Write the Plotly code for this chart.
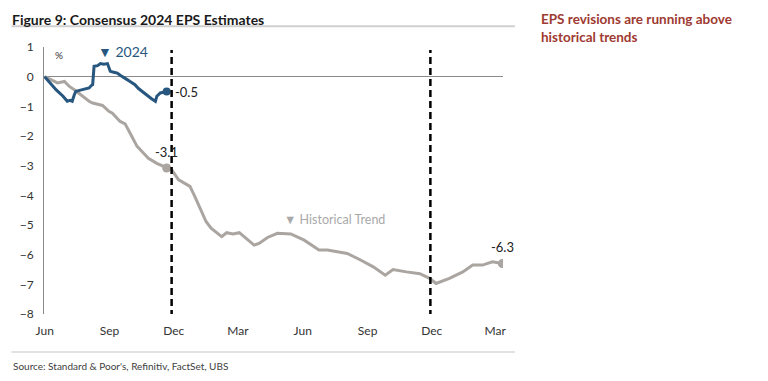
import plotly.graph_objects as go

# ---- data ----
dates_2024 = ["2023-06-01","2023-06-08","2023-06-17","2023-06-27","2023-07-03","2023-07-07",
              "2023-07-10","2023-07-13","2023-07-15","2023-07-19","2023-07-24","2023-07-29",
              "2023-08-03","2023-08-06","2023-08-08","2023-08-10","2023-08-15","2023-08-19",
              "2023-08-24","2023-08-29","2023-09-02","2023-09-07","2023-09-12","2023-09-16",
              "2023-09-21","2023-09-26","2023-09-30","2023-10-04","2023-10-07","2023-10-12",
              "2023-10-17","2023-10-22","2023-10-26","2023-10-31","2023-11-05","2023-11-07",
              "2023-11-12","2023-11-16","2023-11-19","2023-11-21"]
values_2024 = [0, -0.21, -0.44, -0.66, -0.83, -0.8,
               -0.83, -0.61, -0.5, -0.47, -0.44, -0.41,
               -0.38, -0.3, -0.27, 0.35, 0.37, 0.44,
               0.42, 0.44, 0.18, 0.15, 0.12, 0.05,
               -0.04, -0.1, -0.16, -0.22, -0.27, -0.4,
               -0.5, -0.58, -0.66, -0.75, -0.83, -0.66,
               -0.55, -0.52, -0.5, -0.5]

dates_hist = ["2023-06-01","2023-06-19","2023-06-29","2023-07-06","2023-07-13","2023-07-24",
              "2023-08-03","2023-08-08","2023-08-22","2023-08-31","2023-09-05","2023-09-16",
              "2023-09-23","2023-09-30","2023-10-10","2023-10-17","2023-10-26","2023-11-07",
              "2023-11-21","2023-11-28","2023-12-08","2023-12-17","2023-12-24","2023-12-31",
              "2024-01-09","2024-01-16","2024-01-23","2024-02-02","2024-02-07","2024-02-14",
              "2024-02-23","2024-03-03","2024-03-13","2024-03-24","2024-03-31","2024-04-12",
              "2024-04-26","2024-05-15","2024-06-03","2024-06-17","2024-06-24","2024-07-06",
              "2024-08-03","2024-08-22","2024-09-09","2024-09-26","2024-10-07","2024-10-26",
              "2024-11-14","2024-11-28","2024-12-07","2024-12-26","2025-01-14","2025-01-28",
              "2025-02-11","2025-02-25","2025-03-11"]
values_hist = [0, -0.21, -0.16, -0.33, -0.44, -0.66,
               -0.83, -0.89, -0.97, -1.17, -1.23, -1.51,
               -1.59, -1.9, -2.35, -2.52, -2.75, -2.92,
               -3.08, -3.14, -3.48, -3.59, -3.7, -4.04,
               -4.49, -4.89, -5.11, -5.28, -5.39, -5.26,
               -5.3, -5.26, -5.45, -5.68, -5.62, -5.42,
               -5.28, -5.3, -5.51, -5.75, -5.84, -5.84,
               -5.96, -6.18, -6.41, -6.69, -6.5, -6.58,
               -6.64, -6.8, -6.97, -6.8, -6.58, -6.35,
               -6.35, -6.24, -6.3]

tick_dates = ["2023-06-01","2023-09-01","2023-12-01","2024-03-01",
              "2024-06-01","2024-09-01","2024-12-01","2025-03-01"]
tick_labels = ["Jun","Sep","Dec","Mar","Jun","Sep","Dec","Mar"]
y_ticks = [1, 0, -1, -2, -3, -4, -5, -6, -7, -8]
marker_lines = ["2023-11-28", "2024-11-29"]

BLUE = "#27567f"
GRAY = "#aaa5a0"
RED = "#9e3a31"
FONT = "Lato"

fig = go.Figure()
fig.add_trace(go.Scatter(x=dates_hist, y=values_hist, mode="lines",
                         line=dict(color=GRAY, width=3), hoverinfo="skip"))
fig.add_trace(go.Scatter(x=dates_2024, y=values_2024, mode="lines",
                         line=dict(color=BLUE, width=3), hoverinfo="skip"))

# end-point markers
i_mid = dates_hist.index(dates_2024[-1])
fig.add_trace(go.Scatter(x=[dates_hist[i_mid], dates_hist[-1]],
                         y=[values_hist[i_mid], values_hist[-1]], mode="markers",
                         marker=dict(color=GRAY, size=9), hoverinfo="skip"))
fig.add_trace(go.Scatter(x=[dates_2024[-1]], y=[values_2024[-1]], mode="markers",
                         marker=dict(color=BLUE, size=8), hoverinfo="skip"))

shapes = []
for d in marker_lines:
    shapes.append(dict(type="line", xref="x", yref="y", x0=d, x1=d, y0=-8.1, y1=0.9,
                       line=dict(color="black", width=2.5, dash="7px,4px")))
# separators
shapes.append(dict(type="line", xref="paper", yref="paper", x0=-0.071, x1=1.026,
                   y0=1.078, y1=1.078, line=dict(color="#d0d0d0", width=2)))
shapes.append(dict(type="line", xref="paper", yref="paper", x0=-0.071, x1=1.026,
                   y0=-0.142, y1=-0.142, line=dict(color="#d8d8d8", width=1.5)))

annotations = [
    dict(text="<b>Figure 9: Consensus 2024 EPS Estimates</b>", xref="paper", yref="paper",
         x=-0.075, y=1.144, xanchor="left", yanchor="top", showarrow=False,
         font=dict(family=FONT, size=14, color="#1a1a1a")),
    dict(text="<b>EPS revisions are running above<br>historical trends</b>", xref="paper",
         yref="paper", x=1.078, y=1.144, xanchor="left", yanchor="top", align="left",
         showarrow=False, font=dict(family=FONT, size=13.5, color=RED)),
    dict(text="Source: Standard &amp; Poor's, Refinitiv, FactSet, UBS", xref="paper", yref="paper",
         x=-0.071, y=-0.195, xanchor="left", yanchor="middle", showarrow=False,
         font=dict(family=FONT, size=10, color="#404040")),
    dict(text="%", x="2023-06-21", y=0.72, showarrow=False,
         font=dict(family=FONT, size=10, color="#333")),
    dict(text="▼ 2024", x="2023-09-20", y=0.84, showarrow=False,
         font=dict(family=FONT, size=14, color=BLUE)),
    dict(text="▼ Historical Trend", x="2024-07-16", y=-4.83, showarrow=False,
         font=dict(family=FONT, size=12.5, color="#a9a9a9")),
    dict(text="-0.5", x=dates_2024[-1], y=values_2024[-1], xanchor="left", xshift=6,
         showarrow=False, font=dict(family=FONT, size=13, color="#222")),
    dict(text="-3.1", x=dates_hist[i_mid], y=values_hist[i_mid], yshift=16,
         showarrow=False, font=dict(family=FONT, size=13, color="#222")),
    dict(text="-6.3", x=dates_hist[-1], y=values_hist[-1], yshift=17,
         showarrow=False, font=dict(family=FONT, size=13, color="#222")),
]

fig.update_layout(
    width=768, height=381,
    margin=dict(l=33, r=273, t=39, b=75),
    paper_bgcolor="white", plot_bgcolor="white",
    showlegend=False,
    shapes=shapes, annotations=annotations,
    font=dict(family=FONT, size=11, color="#333"),
    xaxis=dict(type="date", range=["2023-05-31", "2025-03-12"], tickvals=tick_dates,
               ticktext=tick_labels, showgrid=False, showline=False, zeroline=False,
               ticks="", ticklabelstandoff=8,
               tickfont=dict(family=FONT, size=12, color="#333")),
    yaxis=dict(range=[-8, 1], tickvals=y_ticks, showgrid=False, showline=True,
               linecolor="#8a8a8a", linewidth=1, zeroline=True, zerolinecolor="#8a8a8a",
               zerolinewidth=1, ticks="", ticklabelstandoff=7,
               tickfont=dict(family=FONT, size=12, color="#333")),
)

fig.write_html("out.html")
